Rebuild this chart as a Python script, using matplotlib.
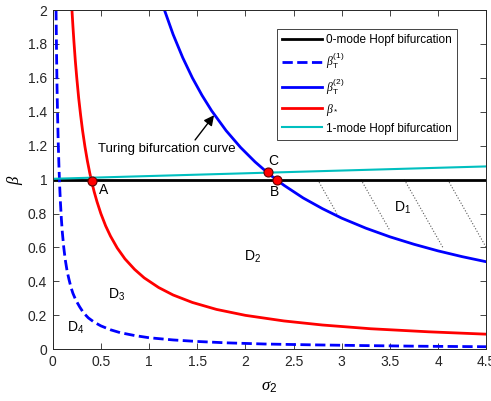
import numpy as np
import matplotlib
matplotlib.use('Agg')
import matplotlib.pyplot as plt

plt.rcParams['font.family'] = ['Liberation Sans', 'DejaVu Sans']
plt.rcParams['mathtext.fontset'] = 'custom'
plt.rcParams['mathtext.rm'] = 'Liberation Sans'
plt.rcParams['mathtext.it'] = 'Liberation Serif:italic'
plt.rcParams['mathtext.sf'] = 'Liberation Sans'

# ---- data ----
# 0-mode Hopf bifurcation (beta = 1)
hopf0_sig = [0.0, 4.5]
hopf0_beta = [1.0, 1.0]

# 1-mode Hopf bifurcation (slightly rising line)
hopf1_sig = [0.0, 4.5]
hopf1_beta = [1.005, 1.078]

# beta_T^(1) (dashed blue)
bt1_sig = [0.035, 0.04, 0.045, 0.05, 0.057, 0.065, 0.072, 0.08, 0.09, 0.1,
           0.115, 0.13, 0.15, 0.17, 0.19, 0.21, 0.24, 0.28, 0.32, 0.37,
           0.43, 0.5, 0.6, 0.7, 0.85, 1.0, 1.25, 1.5, 1.8, 2.2, 2.7, 3.2,
           3.8, 4.5]
bt1_beta = [2.0, 1.75, 1.55, 1.4, 1.23, 1.08, 0.97, 0.87, 0.77, 0.69,
            0.6, 0.53, 0.46, 0.41, 0.365, 0.33, 0.29, 0.25, 0.215, 0.185,
            0.16, 0.138, 0.115, 0.098, 0.081, 0.068, 0.055, 0.046, 0.038,
            0.031, 0.026, 0.022, 0.018, 0.015]

# beta_T^(2) (solid blue, Turing bifurcation curve)
bt2_sig = [1.16, 1.25, 1.35, 1.45, 1.55, 1.65, 1.8, 1.95, 2.1, 2.25, 2.4,
           2.6, 2.8, 3.0, 3.25, 3.5, 3.75, 4.0, 4.25, 4.5]
bt2_beta = [2.0, 1.856, 1.719, 1.6, 1.497, 1.406, 1.289, 1.19, 1.105, 1.031,
            0.967, 0.892, 0.829, 0.773, 0.714, 0.663, 0.619, 0.58, 0.546,
            0.516]

# beta_* (red)
bs_sig = [0.2, 0.21, 0.22, 0.235, 0.25, 0.27, 0.29, 0.31, 0.335, 0.36,
          0.385, 0.405, 0.43, 0.46, 0.5, 0.55, 0.6, 0.67, 0.75, 0.85, 0.95,
          1.1, 1.25, 1.45, 1.7, 2.0, 2.4, 2.8, 3.3, 3.9, 4.5]
bs_beta = [2.0, 1.905, 1.818, 1.70, 1.6, 1.48, 1.38, 1.29, 1.194, 1.111,
           1.039, 0.988, 0.93, 0.87, 0.8, 0.727, 0.667, 0.597, 0.533, 0.471,
           0.421, 0.364, 0.32, 0.276, 0.235, 0.2, 0.167, 0.143, 0.121,
           0.103, 0.089]

# special points A, B, C
pt_names = ['A', 'B', 'C']
pt_sig = [0.405, 2.33, 2.23]
pt_beta = [0.99, 1.0, 1.047]

# hatch lines in D1 (start on beta=1, slope -1, end on blue curve / edge)
hatch_start = [2.75, 3.2, 3.65, 4.1]
hatch_end = [2.95, 3.5, 4.05, 4.5]

xticks = [0, 0.5, 1, 1.5, 2, 2.5, 3, 3.5, 4, 4.5]
xtick_labels = ['0', '0.5', '1', '1.5', '2', '2.5', '3', '3.5', '4', '4.5']
yticks = [0, 0.2, 0.4, 0.6, 0.8, 1, 1.2, 1.4, 1.6, 1.8, 2]
ytick_labels = ['0', '0.2', '0.4', '0.6', '0.8', '1', '1.2', '1.4', '1.6',
                '1.8', '2']

# ---- figure ----
fig = plt.figure(figsize=(4.91, 4.01), dpi=100)
ax = fig.add_axes([0.1073, 0.129, 0.883, 0.846])

# hatch
for s0, s1 in zip(hatch_start, hatch_end):
    ax.plot([s0, s1], [1.0, 1.0 - (s1 - s0)], ls=':', color='0.35', lw=0.8)

ax.plot(hopf0_sig, hopf0_beta, color='k', lw=2, label='0-mode Hopf bifurcation')
ax.plot(bt1_sig, bt1_beta, color='b', lw=2, ls='--',
        label=r'$\beta_{\rm T}^{\rm (1)}$')
ax.plot(bt2_sig, bt2_beta, color='b', lw=2, label=r'$\beta_{\rm T}^{\rm (2)}$')
ax.plot(bs_sig, bs_beta, color='r', lw=2, label=r'$\beta_*$')
ax.plot(hopf1_sig, hopf1_beta, color='c', lw=1.5,
        label='1-mode Hopf bifurcation')

ax.plot(pt_sig, pt_beta, 'o', ms=6.5, mfc='r', mec='#600000', mew=0.8,
        zorder=5)

# labels
for name, s, b in zip(pt_names, [0.525, 2.30, 2.29], [0.94, 0.93, 1.112]):
    ax.text(s, b, name, ha='center', va='center', fontsize=10)

ax.text(3.54, 0.81, r'D$_{\rm 1}$', fontsize=10, va='baseline')
ax.text(1.985, 0.52, r'D$_{\rm 2}$', fontsize=10, va='baseline')
ax.text(0.574, 0.297, r'D$_{\rm 3}$', fontsize=10, va='baseline')
ax.text(0.148, 0.102, r'D$_{\rm 4}$', fontsize=10, va='baseline')

ax.text(0.474, 1.18, 'Turing bifurcation curve', ha='left', va='center',
        fontsize=9.5)
ax.annotate('', xy=(1.675, 1.38), xytext=(1.478, 1.234),
            arrowprops=dict(arrowstyle='-|>,head_length=0.6,head_width=0.3',
                            color='k', lw=1, mutation_scale=10,
                            shrinkA=0, shrinkB=0))

ax.set_xlim(0, 4.5)
ax.set_ylim(0, 2)
ax.set_xticks(xticks)
ax.set_xticklabels(xtick_labels)
ax.set_yticks(yticks)
ax.set_yticklabels(ytick_labels)
ax.tick_params(direction='in', top=True, right=True, length=4, width=0.6,
               labelsize=10, colors='0.15', pad=4)
for sp in ax.spines.values():
    sp.set_linewidth(0.7)
    sp.set_color('0.15')

ax.set_xlabel(r'$\sigma_{\rm 2}$', fontsize=12, labelpad=8)
ax.set_ylabel(r'$\beta$', fontsize=12, labelpad=2)

leg = ax.legend(loc='upper right', bbox_to_anchor=(0.933, 0.944),
                fontsize=8.5, handlelength=3.4, handletextpad=0.35,
                labelspacing=0.42, borderpad=0.45, borderaxespad=0,
                fancybox=False, framealpha=1, edgecolor='0.15')
leg.get_frame().set_linewidth(0.6)

plt.savefig('out.png', dpi=100)
